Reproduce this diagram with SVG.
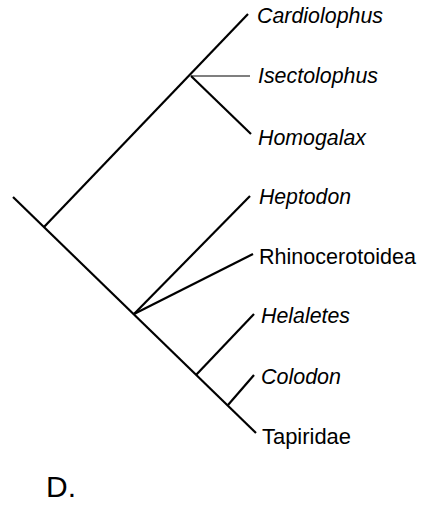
<svg xmlns="http://www.w3.org/2000/svg" width="421" height="506" viewBox="0 0 421 506">
<style>
.e{stroke:#000;stroke-width:2.2;fill:none;stroke-linecap:butt}
.t{stroke:#000;stroke-width:1.2;fill:none}
text{font-family:"Liberation Sans",Arial,sans-serif;font-size:22px;fill:#000}
.i{font-style:italic}
</style>
<rect width="421" height="506" fill="#fff"/>
<g id="connectors">
<line class="e" x1="13" y1="197" x2="256" y2="433"/>
<line class="e" x1="44" y1="227" x2="248" y2="14"/>
<line class="t" x1="191" y1="76" x2="250" y2="76"/>
<line class="e" x1="191" y1="76" x2="251" y2="134"/>
<line class="e" x1="134" y1="314" x2="250" y2="196"/>
<line class="e" x1="134" y1="314" x2="253" y2="254"/>
<line class="e" x1="196" y1="375" x2="254" y2="314"/>
<line class="e" x1="228" y1="405" x2="254" y2="375"/>
</g>
<g id="n-cardiolophus"><text class="i" x="257" y="23" textLength="126" lengthAdjust="spacingAndGlyphs">Cardiolophus</text></g>
<g id="n-isectolophus"><text class="i" x="258" y="83" textLength="120" lengthAdjust="spacingAndGlyphs">Isectolophus</text></g>
<g id="n-homogalax"><text class="i" x="258" y="145" textLength="108" lengthAdjust="spacingAndGlyphs">Homogalax</text></g>
<g id="n-heptodon"><text class="i" x="259" y="204" textLength="92" lengthAdjust="spacingAndGlyphs">Heptodon</text></g>
<g id="n-rhinocerotoidea"><text x="259" y="264" textLength="157" lengthAdjust="spacingAndGlyphs">Rhinocerotoidea</text></g>
<g id="n-helaletes"><text class="i" x="261" y="323" textLength="89" lengthAdjust="spacingAndGlyphs">Helaletes</text></g>
<g id="n-colodon"><text class="i" x="261" y="384" textLength="80" lengthAdjust="spacingAndGlyphs">Colodon</text></g>
<g id="n-tapiridae"><text x="262" y="444" textLength="89" lengthAdjust="spacingAndGlyphs">Tapiridae</text></g>
<g id="label-d"><text x="46" y="497" style="font-size:30px">D.</text></g>
</svg>
